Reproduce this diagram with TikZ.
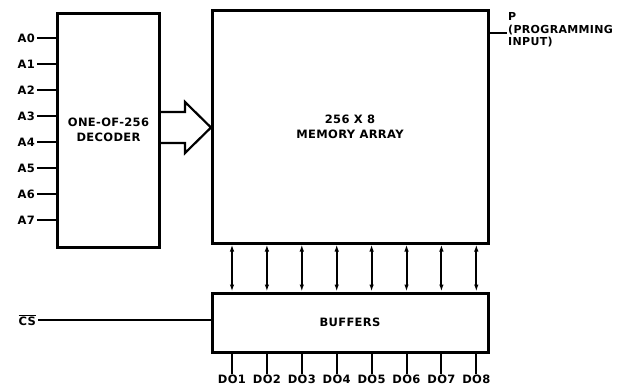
\documentclass[tikz,border=0pt]{standalone}
\usepackage{fontspec}
\setmainfont{DejaVu Sans}[LetterSpace=3]
\usetikzlibrary{arrows.meta, positioning}

\begin{document}
\begin{tikzpicture}[
    x=1pt, y=-1pt,
    font=\fontsize{11.5}{15}\selectfont\bfseries,
    block/.style={draw=black, line width=3pt, inner sep=0pt, align=center},
    wire/.style={draw=black, line width=2pt},
    biwire/.style={wire, {Latex[length=7pt,width=4.5pt]}-{Latex[length=7pt,width=4.5pt]}},
    pinlabel/.style={inner sep=2pt}
]
\useasboundingbox (0,0) rectangle (623,391);

\node[block, minimum width=102pt, minimum height=234pt] (decoder) at (108.5,130) {ONE-OF-256\\DECODER};
\node[block, minimum width=276pt, minimum height=233pt] (memory) at (350,126.5) {256 X 8\\MEMORY ARRAY};
\node[block, minimum width=276pt, minimum height=59pt] (buffers) at (350,322.5) {BUFFERS};

% address inputs
\foreach \i in {0,...,7} {
  \node[pinlabel, anchor=east] (a\i) at (37,38+26*\i) {A\i};
  \draw[wire] (a\i.east) -- (decoder.west |- a\i.east);
}

% decoder to memory
\draw[wire, line width=2.2pt] (160.5,112) -- (185,112) -- (185,102) -- (211,127.5)
  -- (185,153) -- (185,143) -- (160.5,143);

% programming input
\node[anchor=west, align=left, inner sep=1pt, font=\fontsize{11}{12.5}\selectfont\bfseries] (prog) at (507,30) {P\\(PROGRAMMING\\INPUT)};
\draw[wire] (memory.east |- 0,33) -- (prog.west |- 0,33);

% chip select
\node[pinlabel, anchor=east] (cs) at (38,320) {$\overline{\hbox{CS}}$};
\draw[wire] (cs.east) -- (buffers.west |- cs.east);

% data lines
\foreach \i [evaluate=\i as \x using 232+34.9*(\i-1)] in {1,...,8} {
  \node[inner sep=1pt, anchor=north] (do\i) at (\x,374) {DO\i};
  \draw[biwire] (memory.south -| do\i) -- (buffers.north -| do\i);
  \draw[wire] (buffers.south -| do\i) -- (do\i.north);
}
\end{tikzpicture}
\end{document}
